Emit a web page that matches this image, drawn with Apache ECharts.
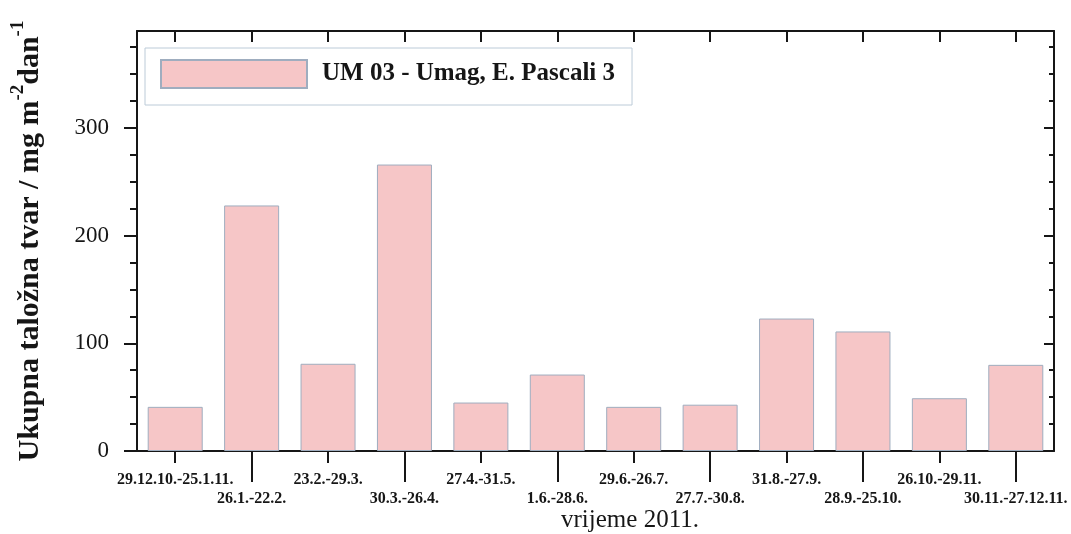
<!DOCTYPE html>
<html>
<head>
<meta charset="utf-8">
<script src="https://cdn.jsdelivr.net/npm/echarts@6/dist/echarts.min.js"></script>
<style>
  html, body { margin: 0; padding: 0; background: #ffffff; }
  #chart { width: 1071px; height: 534px; }
</style>
</head>
<body>
<div id="chart"></div>
<script>
// Sampling periods (2011) and total deposited matter, mg m^-2 dan^-1
const periods = [
  '29.12.10.-25.1.11.', '26.1.-22.2.', '23.2.-29.3.', '30.3.-26.4.',
  '27.4.-31.5.', '1.6.-28.6.', '29.6.-26.7.', '27.7.-30.8.',
  '31.8.-27.9.', '28.9.-25.10.', '26.10.-29.11.', '30.11.-27.12.11.'
];
const deposition = [41, 228, 81, 266, 45, 71, 41, 43, 123, 111, 49, 80];
const seriesName = 'UM 03 - Umag, E. Pascali 3';

// Value axis ticks
const yMin = 0;
const yMax = 390;
const yMajorTicks = [0, 100, 200, 300];
const yMinorTicks = [25, 50, 75, 125, 150, 175, 225, 250, 275, 325, 350, 375];

const serif = "'Liberation Serif', 'DejaVu Serif', 'Times New Roman', serif";
const ink = '#161616';
const axisLine = { show: true, onZero: false, lineStyle: { color: ink, width: 2 } };

const chart = echarts.init(document.getElementById('chart'));

const catAxisBase = {
  type: 'category',
  data: periods,
  boundaryGap: true,
  splitLine: { show: false }
};
const valAxisBase = {
  type: 'value',
  min: yMin,
  max: yMax,
  interval: 100,
  splitLine: { show: false }
};

chart.setOption({
  animation: false,
  backgroundColor: '#ffffff',
  grid: { left: 137, right: 17, top: 31, bottom: 83, containLabel: false },
  legend: {
    left: 145,
    top: 48,
    orient: 'horizontal',
    padding: [11, 17, 16, 15],
    borderColor: '#bccbd8',
    borderWidth: 1,
    itemWidth: 146,
    itemHeight: 28,
    icon: 'rect',
    textStyle: {
      fontFamily: serif,
      fontWeight: 'bold',
      fontSize: 25,
      color: ink,
      padding: [0, 0, 0, 10]
    },
    data: [seriesName]
  },
  xAxis: [
    Object.assign({}, catAxisBase, {
      position: 'bottom',
      axisLine: axisLine,
      axisTick: {
        show: true, alignWithLabel: true, inside: false, length: 12,
        interval: (i) => i % 2 === 0,
        lineStyle: { color: ink, width: 2 }
      },
      axisLabel: {
        interval: 0,
        margin: 19,
        fontFamily: serif,
        fontWeight: 'bold',
        fontSize: 16,
        lineHeight: 19,
        color: ink,
        formatter: (v, i) => (i % 2 ? '\n' + v : v)
      }
    }),
    Object.assign({}, catAxisBase, {
      position: 'bottom',
      axisLine: { show: false },
      axisTick: {
        show: true, alignWithLabel: true, inside: false, length: 31,
        interval: (i) => i % 2 === 1,
        lineStyle: { color: ink, width: 2 }
      },
      axisLabel: { show: false }
    }),
    Object.assign({}, catAxisBase, {
      position: 'top',
      axisLine: axisLine,
      axisTick: {
        show: true, alignWithLabel: true, inside: true, length: 11,
        interval: 0,
        lineStyle: { color: ink, width: 2 }
      },
      axisLabel: { show: false }
    })
  ],
  yAxis: [
    Object.assign({}, valAxisBase, {
      position: 'left',
      axisLine: axisLine,
      axisTick: {
        show: true, inside: false, length: 13,
        customValues: yMajorTicks,
        lineStyle: { color: ink, width: 2 }
      },
      axisLabel: {
        customValues: yMajorTicks,
        margin: 28,
        fontFamily: serif,
        fontSize: 23,
        color: ink
      },
      name: '{m|Ukupna taložna tvar / mg m}{s|-2}{m|dan}{s|-1}',
      nameLocation: 'middle',
      nameRotate: 90,
      nameGap: 92,
      nameTextStyle: {
        rich: {
          m: {
            fontFamily: serif, fontWeight: 'bold', fontSize: 30,
            lineHeight: 36, color: ink, verticalAlign: 'bottom'
          },
          s: {
            fontFamily: serif, fontWeight: 'bold', fontSize: 19,
            lineHeight: 19, color: ink, verticalAlign: 'top'
          }
        }
      }
    }),
    Object.assign({}, valAxisBase, {
      position: 'left',
      axisLine: { show: false },
      axisTick: {
        show: true, inside: false, length: 7,
        customValues: yMinorTicks,
        lineStyle: { color: ink, width: 2 }
      },
      axisLabel: { show: false }
    }),
    Object.assign({}, valAxisBase, {
      position: 'right',
      axisLine: axisLine,
      axisTick: {
        show: true, inside: true, length: 10,
        customValues: yMajorTicks,
        lineStyle: { color: ink, width: 2 }
      },
      axisLabel: { show: false }
    }),
    Object.assign({}, valAxisBase, {
      position: 'right',
      axisLine: { show: false },
      axisTick: {
        show: true, inside: true, length: 5,
        customValues: yMinorTicks,
        lineStyle: { color: ink, width: 2 }
      },
      axisLabel: { show: false }
    })
  ],
  graphic: [
    {
      type: 'text',
      x: 630,
      y: 520,
      style: {
        text: 'vrijeme 2011.',
        fontFamily: serif,
        fontSize: 25,
        fill: ink,
        align: 'center',
        verticalAlign: 'middle'
      }
    }
  ],
  series: [
    {
      name: seriesName,
      type: 'bar',
      xAxisIndex: 0,
      yAxisIndex: 0,
      data: deposition,
      barWidth: '72%',
      itemStyle: {
        color: '#f6c6c7',
        borderColor: '#9fadbf',
        borderWidth: 1
      }
    }
  ]
});
</script>
</body>
</html>
